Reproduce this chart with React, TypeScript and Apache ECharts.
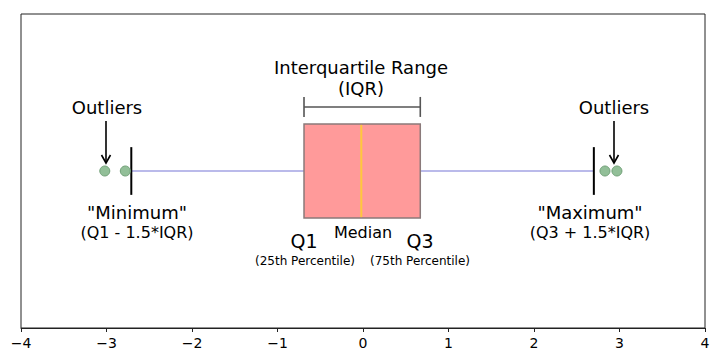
import React, { useEffect, useRef } from "react";
import * as echarts from "echarts";

// Box statistics: [minimum whisker, Q1, median, Q3, maximum whisker]
const boxStats = [-2.71, -0.69, -0.02, 0.67, 2.7];
const outlierX = [-3.02, -2.78, 2.83, 2.97];
const xTicks = [-4, -3, -2, -1, 0, 1, 2, 3, 4];

const FONT = "DejaVu Sans";

export default function App() {
  const ref = useRef<HTMLDivElement>(null);

  useEffect(() => {
    if (!ref.current) return;
    const chart = echarts.init(ref.current, null, { renderer: "svg" });

    const txt = (x: number, y: number, text: string, size: number) => ({
      type: "text",
      x,
      y,
      style: {
        text,
        fontFamily: FONT,
        fontSize: size,
        fill: "#000",
        align: "center",
        verticalAlign: "middle",
      },
    });

    const arrow = (x: number, y1: number, y2: number) => [
      { type: "line", shape: { x1: x, y1, x2: x, y2 }, style: { stroke: "#000", lineWidth: 1.6 } },
      {
        type: "polyline",
        shape: { points: [[x - 4.5, y2 - 8], [x, y2], [x + 4.5, y2 - 8]] },
        style: { stroke: "#000", lineWidth: 1.6, fill: null },
      },
    ];

    chart.setOption({
      animation: false,
      grid: {
        left: 21,
        right: 15,
        top: 14,
        bottom: 32,
        show: true,
        borderColor: "#222",
        borderWidth: 1,
        backgroundColor: "#fff",
      },
      xAxis: {
        type: "value",
        min: xTicks[0],
        max: xTicks[xTicks.length - 1],
        interval: 1,
        splitLine: { show: false },
        axisLine: { show: true, onZero: false, lineStyle: { color: "#222", width: 1 } },
        axisTick: { show: true, length: 4, lineStyle: { color: "#222" } },
        axisLabel: {
          color: "#000",
          fontFamily: FONT,
          fontSize: 14,
          margin: 8,
          formatter: (v: number) => String(v).replace("-", "\u2212"),
        },
      },
      yAxis: { type: "value", min: 0, max: 1, show: false },
      series: [
        {
          type: "custom",
          data: [boxStats],
          renderItem: (params: any, api: any) => {
            const mn = api.value(0);
            const q1 = api.value(1);
            const md = api.value(2);
            const q3 = api.value(3);
            const mx = api.value(4);
            const yc = 0.5;
            const pMin = api.coord([mn, yc]);
            const pQ1 = api.coord([q1, yc]);
            const pQ3 = api.coord([q3, yc]);
            const pMax = api.coord([mx, yc]);
            const top = api.coord([q1, 0.65])[1];
            const bot = api.coord([q1, 0.35])[1];
            const capTop = api.coord([mn, 0.576])[1];
            const capBot = api.coord([mn, 0.424])[1];
            const pMd = api.coord([md, yc]);
            const by = api.coord([q1, 0.704])[1];
            return {
              type: "group",
              children: [
                { type: "line", shape: { x1: pMin[0], y1: pMin[1], x2: pQ1[0], y2: pQ1[1] }, style: { stroke: "#a3a3e3", lineWidth: 1.4 } },
                { type: "line", shape: { x1: pQ3[0], y1: pQ3[1], x2: pMax[0], y2: pMax[1] }, style: { stroke: "#a3a3e3", lineWidth: 1.4 } },
                { type: "line", shape: { x1: pMin[0], y1: capTop, x2: pMin[0], y2: capBot }, style: { stroke: "#000", lineWidth: 2 } },
                { type: "line", shape: { x1: pMax[0], y1: capTop, x2: pMax[0], y2: capBot }, style: { stroke: "#000", lineWidth: 2 } },
                {
                  type: "rect",
                  shape: { x: pQ1[0], y: top, width: pQ3[0] - pQ1[0], height: bot - top },
                  style: { fill: "#ff9a9a", stroke: "#8a7a7a", lineWidth: 1.5 },
                },
                { type: "line", shape: { x1: pMd[0], y1: top + 1, x2: pMd[0], y2: bot - 1 }, style: { stroke: "#ffc83c", lineWidth: 2 } },
                { type: "line", shape: { x1: pQ1[0], y1: by, x2: pQ3[0], y2: by }, style: { stroke: "#555", lineWidth: 1.6 } },
                { type: "line", shape: { x1: pQ1[0], y1: by - 10, x2: pQ1[0], y2: by + 10 }, style: { stroke: "#555", lineWidth: 1.6 } },
                { type: "line", shape: { x1: pQ3[0], y1: by - 10, x2: pQ3[0], y2: by + 10 }, style: { stroke: "#555", lineWidth: 1.6 } },
              ],
            };
          },
          z: 2,
        },
        {
          type: "scatter",
          data: outlierX.map((x) => [x, 0.5]),
          symbol: "circle",
          symbolSize: 10,
          itemStyle: { color: "#92bf98", borderColor: "#6f9f76", borderWidth: 1, opacity: 1 },
          z: 3,
        },
      ],
      graphic: [
        txt(361, 67, "Interquartile Range", 18),
        txt(361, 88, "(IQR)", 18),
        txt(107, 107, "Outliers", 18),
        txt(614, 107, "Outliers", 18),
        ...arrow(106, 121, 163),
        ...arrow(614, 121, 163),
        txt(137, 212, "\"Minimum\"", 18),
        txt(137, 232, "(Q1 - 1.5*IQR)", 16),
        txt(590, 212, "\"Maximum\"", 18),
        txt(590, 232, "(Q3 + 1.5*IQR)", 16),
        txt(304, 241, "Q1", 19),
        txt(420, 241, "Q3", 19),
        txt(363, 232, "Median", 16),
        txt(305, 261, "(25th Percentile)", 12),
        txt(420, 261, "(75th Percentile)", 12),
      ],
    });

    return () => chart.dispose();
  }, []);

  return (
    <div
      ref={ref}
      style={{ position: "fixed", left: 0, top: 0, width: 720, height: 360, background: "#fff" }}
    />
  );
}
